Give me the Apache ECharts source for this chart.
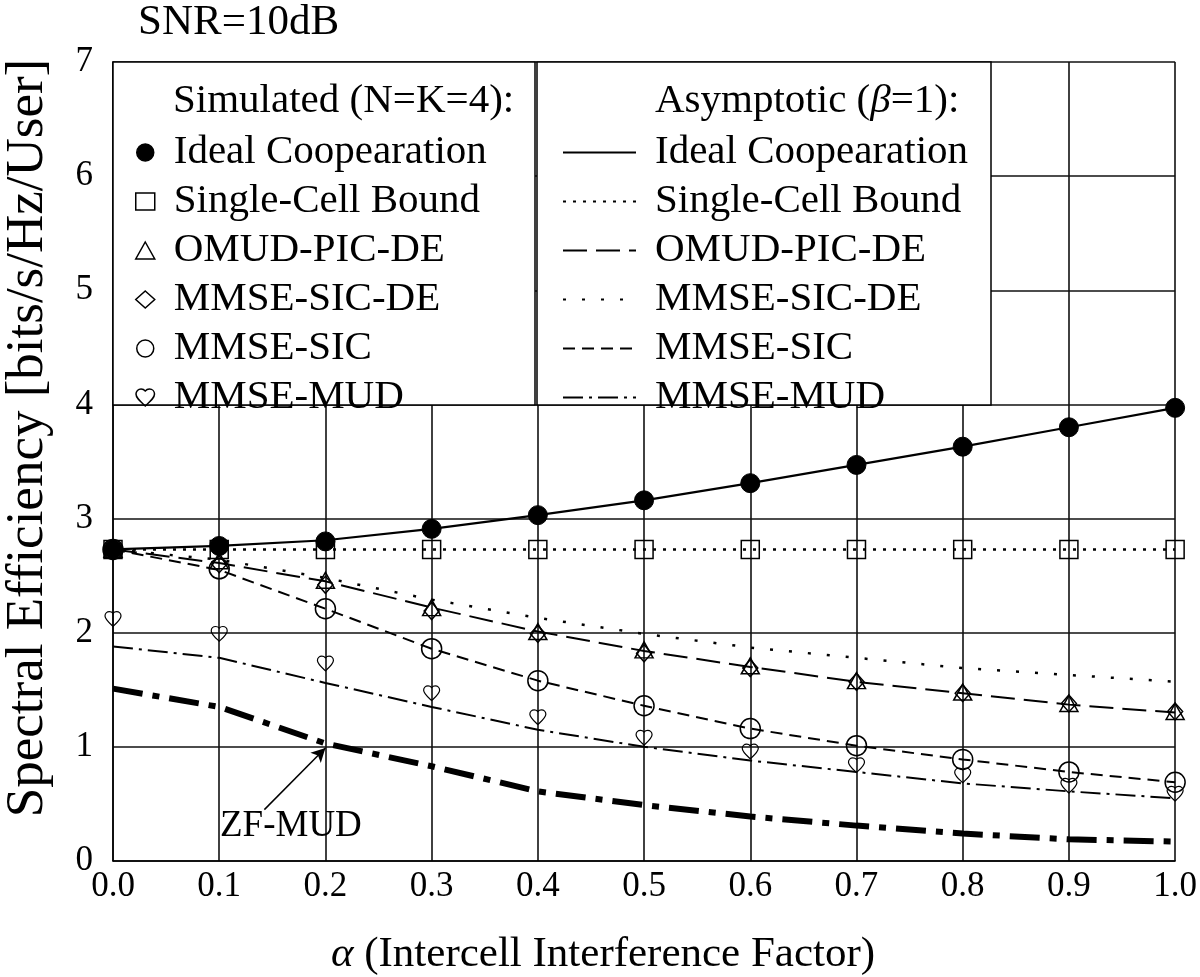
<!DOCTYPE html>
<html><head><meta charset="utf-8">
<script src="https://cdn.jsdelivr.net/npm/echarts@6/dist/echarts.min.js"></script>
<style>html,body{margin:0;padding:0;background:#fff}#c{width:1200px;height:977px}</style>
</head><body><div id="c"></div>
<script>
// ---------------- data ----------------
const alpha = [0.0, 0.1, 0.2, 0.3, 0.4, 0.5, 0.6, 0.7, 0.8, 0.9, 1.0];
const yTicks = [0, 1, 2, 3, 4, 5, 6, 7];

// Simulated (N=K=4)
const simIdeal  = [2.73, 2.76, 2.80, 2.91, 3.03, 3.16, 3.31, 3.47, 3.63, 3.80, 3.97];
const simSingle = [2.73, 2.73, 2.73, 2.73, 2.73, 2.73, 2.73, 2.73, 2.73, 2.73, 2.73];
const simOMUD   = [2.73, 2.63, 2.46, 2.22, 2.01, 1.85, 1.71, 1.58, 1.48, 1.38, 1.31];
const simSICDE  = [2.73, 2.60, 2.42, 2.19, 1.99, 1.82, 1.69, 1.57, 1.47, 1.38, 1.31];
const simSIC    = [2.73, 2.56, 2.21, 1.86, 1.58, 1.36, 1.16, 1.01, 0.89, 0.78, 0.69];
const simMUD    = [2.12, 1.99, 1.73, 1.47, 1.26, 1.08, 0.96, 0.84, 0.75, 0.66, 0.59];

// Asymptotic (beta=1)
const asyIdeal  = [2.73, 2.76, 2.81, 2.91, 3.03, 3.16, 3.31, 3.47, 3.63, 3.80, 3.97];
const asySingle = [2.73, 2.73, 2.73, 2.73, 2.73, 2.73, 2.73, 2.73, 2.73, 2.73, 2.73];
const asyOMUD   = [2.73, 2.61, 2.45, 2.22, 2.01, 1.84, 1.70, 1.57, 1.47, 1.37, 1.30];
const asySICDE  = [2.73, 2.64, 2.48, 2.29, 2.13, 1.99, 1.87, 1.78, 1.69, 1.63, 1.57];
const asySIC    = [2.73, 2.55, 2.21, 1.86, 1.58, 1.36, 1.16, 1.01, 0.89, 0.78, 0.69];
const asyMUD    = [1.88, 1.78, 1.56, 1.35, 1.15, 1.00, 0.88, 0.78, 0.68, 0.61, 0.55];
const zfMUD     = [1.51, 1.35, 1.03, 0.83, 0.61, 0.49, 0.39, 0.31, 0.24, 0.19, 0.17];

// annotation arrow (data coords): from label to curve
const zfArrow = [[0.1425, 0.45], [0.2, 0.99]];

const simNames = ['Ideal Coopearation', 'Single-Cell Bound', 'OMUD-PIC-DE', 'MMSE-SIC-DE', 'MMSE-SIC', 'MMSE-MUD'];
const asyNames = simNames.map(n => 'A:' + n);

// ---------------- chart ----------------
const FONT = 'Liberation Serif';
const HEART = 'path://M12 21.35l-1.45-1.32C5.4 15.36 2 12.28 2 8.5 2 5.42 4.42 3 7.5 3c1.74 0 3.41.81 4.5 2.09C13.09 3.81 14.76 3 16.5 3 19.58 3 22 5.42 22 8.5c0 3.780-3.4 6.86-8.55 11.54L12 21.35z';
const pairs = ys => alpha.map((a, i) => [a, ys[i]]);
const hollow = { color: 'transparent', borderColor: '#000', borderWidth: 1.5, opacity: 1 };

const chart = echarts.init(document.getElementById('c'));

const lineSer = (name, ys, width, type) => ({
  name, type: 'line', data: pairs(ys), symbol: 'none', silent: true,
  lineStyle: { color: '#000', width, type }, z: 3
});
const dotSer = (name, ys, symbol, size, style) => ({
  name, type: 'scatter', data: pairs(ys), symbol, symbolSize: size, symbolKeepAspect: true,
  itemStyle: style, silent: true, z: 5
});

const series = [
  lineSer(asyNames[0], asyIdeal, 2.2, 'solid'),
  lineSer(asyNames[1], asySingle, 2.5, [3, 7]),
  lineSer(asyNames[2], asyOMUD, 2, [24, 9]),
  lineSer(asyNames[3], asySICDE, 2.5, [3, 16]),
  lineSer(asyNames[4], asySIC, 2, [12, 7]),
  lineSer(asyNames[5], asyMUD, 2, [20, 6, 3, 6]),
  {
    name: 'ZF-MUD', type: 'line', data: pairs(zfMUD), symbol: 'none', silent: true,
    lineStyle: { color: '#000', width: 6, type: [30, 10, 7, 10] }, z: 3,
    markLine: {
      silent: true, symbol: ['none', 'arrow'], symbolSize: [11, 14],
      label: { show: false },
      lineStyle: { color: '#000', width: 1.5, type: 'solid' },
      data: [[{ coord: zfArrow[0] }, { coord: zfArrow[1] }]]
    }
  },
  dotSer(simNames[0], simIdeal, 'circle', 19, { color: '#000', borderColor: '#000', borderWidth: 1, opacity: 1 }),
  dotSer(simNames[1], simSingle, 'rect', 18, hollow),
  dotSer(simNames[2], simOMUD, 'triangle', [18, 16], hollow),
  dotSer(simNames[3], simSICDE, 'diamond', [15, 17], hollow),
  dotSer(simNames[4], simSIC, 'circle', 20, hollow),
  dotSer(simNames[5], simMUD, HEART, [16, 16], { color: 'transparent', borderColor: '#000', borderWidth: 1.2, opacity: 1 })
];

const legendText = { fontFamily: FONT, fontSize: 41, color: '#000', lineHeight: 49 };

const option = {
  backgroundColor: '#fff',
  animation: false,
  grid: { left: 113, right: 20, top: 62, bottom: 116, containLabel: false },
  xAxis: {
    type: 'value', min: 0, max: 1, interval: 0.1,
    axisLine: { show: true, lineStyle: { color: '#000', width: 1.5 } },
    axisTick: { show: false },
    splitLine: { show: true, lineStyle: { color: '#111', width: 1.6 } },
    axisLabel: { fontFamily: FONT, fontSize: 35, color: '#000', margin: 8, formatter: v => v.toFixed(1) }
  },
  yAxis: {
    type: 'value', min: yTicks[0], max: yTicks[yTicks.length - 1], interval: 1,
    axisLine: { show: true, lineStyle: { color: '#000', width: 1.5 } },
    axisTick: { show: false },
    splitLine: { show: true, lineStyle: { color: '#111', width: 1.6 } },
    axisLabel: { fontFamily: FONT, fontSize: 35, color: '#000', margin: 20 }
  },
  legend: [
    {
      data: simNames, orient: 'vertical', left: 135, top: 128, padding: 0, itemGap: 0,
      itemWidth: 19, itemHeight: 17, selectedMode: false, z: 6,
      itemStyle: { borderWidth: 1.5, borderColor: '#000', opacity: 1 },
      textStyle: Object.assign({ padding: [0, 0, 0, 14] }, legendText)
    },
    {
      data: asyNames, orient: 'vertical', left: 562, top: 128, padding: 0, itemGap: 0,
      itemWidth: 73, itemHeight: 17, selectedMode: false, z: 6,
      itemStyle: { opacity: 0 },
      lineStyle: { width: 2 },
      formatter: n => n.slice(2),
      textStyle: Object.assign({ padding: [0, 0, 0, 14] }, legendText)
    }
  ],
  graphic: [
    { type: 'rect', z: 3, shape: { x: 113, y: 62, width: 422, height: 343 },
      style: { fill: '#fff', stroke: '#000', lineWidth: 1.5 } },
    { type: 'rect', z: 3, shape: { x: 537, y: 62, width: 454, height: 343 },
      style: { fill: '#fff', stroke: '#000', lineWidth: 1.5 } },
    { type: 'text', z: 10, x: 173, y: 101,
      style: { text: 'Simulated (N=K=4):', fontFamily: FONT, fontSize: 41, fill: '#000', align: 'left', verticalAlign: 'middle' } },
    { type: 'text', z: 10, x: 655, y: 101,
      style: { text: 'Asymptotic ({i|β}=1):', fontFamily: FONT, fontSize: 41, fill: '#000', align: 'left', verticalAlign: 'middle',
        rich: { i: { fontFamily: FONT, fontSize: 41, fontStyle: 'italic', fill: '#000' } } } },
    { type: 'text', z: 10, x: 138, y: 23,
      style: { text: 'SNR=10dB', fontFamily: FONT, fontSize: 43, fill: '#000', align: 'left', verticalAlign: 'middle' } },
    { type: 'text', z: 10, x: 220, y: 826,
      style: { text: 'ZF-MUD', fontFamily: FONT, fontSize: 37, fill: '#000', align: 'left', verticalAlign: 'middle' } },
    { type: 'text', z: 10, x: 603, y: 955,
      style: { text: '{i|α} (Intercell Interference Factor)', fontFamily: FONT, fontSize: 43, fill: '#000', align: 'center', verticalAlign: 'middle',
        rich: { i: { fontFamily: FONT, fontSize: 43, fontStyle: 'italic', fill: '#000' } } } },
    { type: 'text', z: 10, x: 28, y: 438, rotation: Math.PI / 2,
      style: { text: 'Spectral Efficiency [bits/s/Hz/User]', fontFamily: FONT, fontSize: 53, fill: '#000', align: 'center', verticalAlign: 'middle' } }
  ],
  series
};
chart.setOption(option);
</script>
</body></html>
